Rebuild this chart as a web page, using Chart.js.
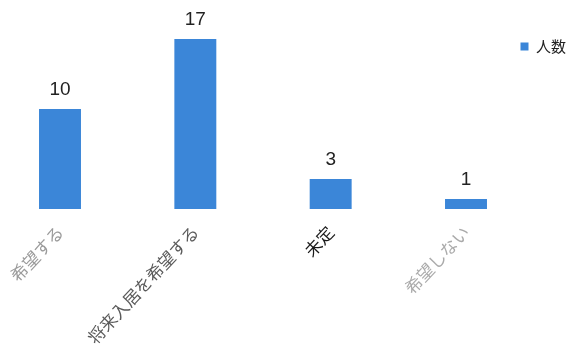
<!DOCTYPE html>
<html>
<head>
<meta charset="utf-8">
<script src="https://cdn.jsdelivr.net/npm/chart.js@4"></script>
<style>
  html, body { margin: 0; padding: 0; background: #fff; }
  #wrap { width: 569px; height: 350px; }
</style>
</head>
<body>
<div id="wrap"><canvas id="chart"></canvas></div>
<script>
const categories = ['希望する', '将来入居を希望する', '未定', '希望しない'];
const counts = [10, 17, 3, 1];
const seriesLabel = '人数';
const tickColors = ['#9a9a9a', '#5a5a5a', '#1a1a1a', '#aaaaaa'];

// Draw the value above each bar (no datalabels plugin available)
const valueLabels = {
  id: 'valueLabels',
  afterDatasetsDraw(chart) {
    const ctx = chart.ctx;
    const meta = chart.getDatasetMeta(0);
    ctx.save();
    ctx.fillStyle = '#222';
    ctx.font = '19px "Liberation Sans", Arial, sans-serif';
    ctx.textAlign = 'center';
    ctx.textBaseline = 'bottom';
    meta.data.forEach((bar, i) => {
      ctx.fillText(String(counts[i]), bar.x, bar.y - 10);
    });
    ctx.restore();
  }
};

// Push the legend over to the right edge of the canvas
const legendShift = {
  id: 'legendShift',
  afterLayout(chart) {
    const lg = chart.legend;
    if (!lg) return;
    const dx = chart.width + 7 - lg.right;
    lg.left += dx;
    lg.right += dx;
  }
};

const ctx = document.getElementById('chart').getContext('2d');
new Chart(ctx, {
  type: 'bar',
  data: {
    labels: categories,
    datasets: [{
      label: seriesLabel,
      data: counts,
      backgroundColor: '#3b86d8',
      borderWidth: 0,
      clip: false,
      categoryPercentage: 0.62,
      barPercentage: 0.5,
    }]
  },
  options: {
    responsive: true,
    maintainAspectRatio: false,
    animation: false,
    layout: { padding: { left: 0, right: 0, top: 9, bottom: 0 } },
    plugins: {
      legend: {
        position: 'right',
        align: 'start',
        title: { display: true, text: ' ', font: { size: 10, lineHeight: 1 }, padding: { top: 16, bottom: 0 } },
        labels: {
          boxWidth: 8,
          boxHeight: 8,
          padding: 4,
          color: '#222',
          font: { size: 15, family: '"Noto Sans CJK JP", sans-serif' }
        }
      },
      tooltip: { enabled: false }
    },
    scales: {
      y: { display: false, min: 0, max: 20 },
      x: {
        offset: false,
        grid: { display: false },
        border: { display: false },
        afterFit(scale) {
          scale.paddingLeft = 60;
          scale.paddingRight = 103;
          scale.height = 141;
        },
        ticks: {
          minRotation: 47,
          maxRotation: 47,
          padding: 5,
          color: tickColors,
          font: { size: 17, family: '"Noto Sans CJK JP", sans-serif' }
        }
      }
    }
  },
  plugins: [valueLabels, legendShift]
});
</script>
</body>
</html>
